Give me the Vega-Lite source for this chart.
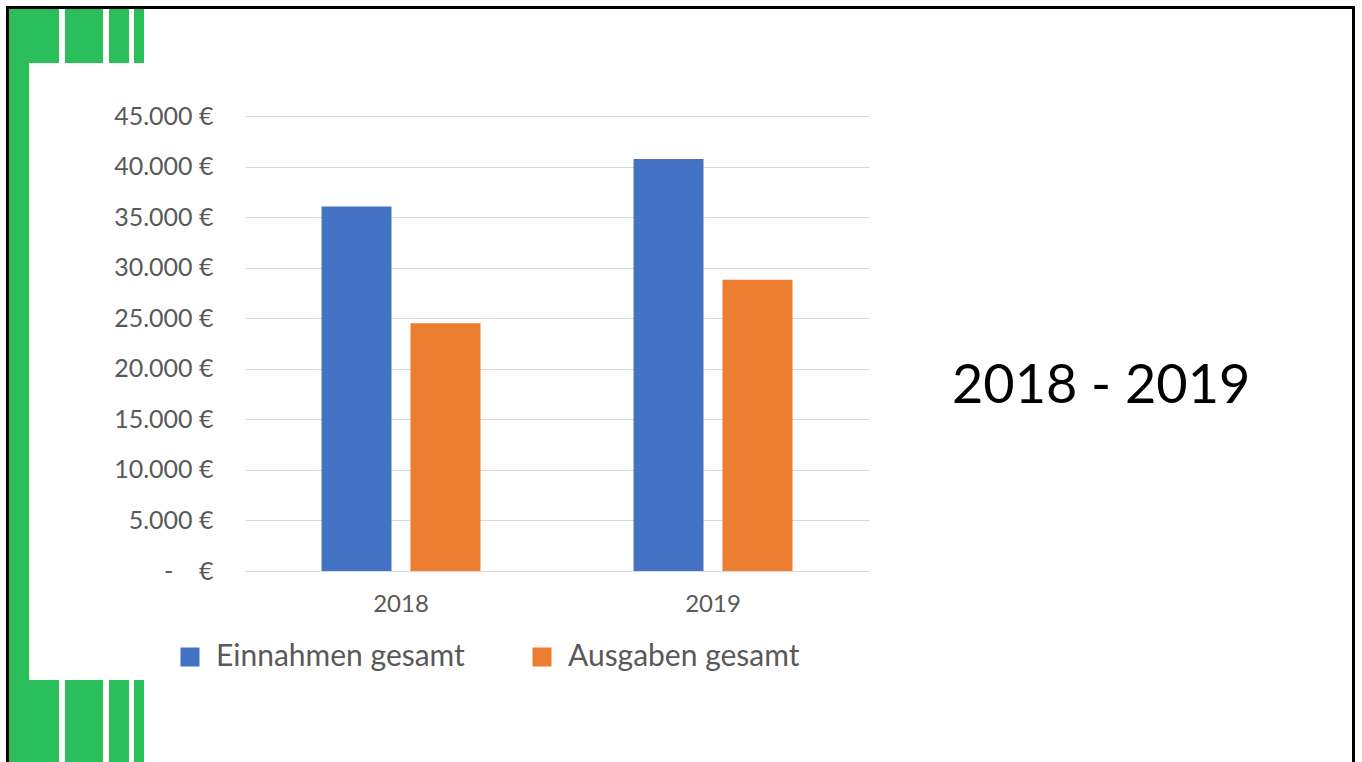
{
  "$schema": "https://vega.github.io/schema/vega-lite/v6.json",
  "width": 624,
  "height": 455,
  "autosize": {"type": "none"},
  "padding": {"left": 245, "top": 116, "right": 493, "bottom": 191},
  "background": "white",
  "config": {
    "view": {"stroke": null},
    "font": "Lato"
  },
  "datasets": {
    "bars": [
      {"Jahr": "2018", "Serie": "Einnahmen gesamt", "Betrag": 36050},
      {"Jahr": "2018", "Serie": "Ausgaben gesamt", "Betrag": 24500},
      {"Jahr": "2019", "Serie": "Einnahmen gesamt", "Betrag": 40750},
      {"Jahr": "2019", "Serie": "Ausgaben gesamt", "Betrag": 28800}
    ],
    "decor": [
      {"x1": 9, "x2": 29, "y1": 9, "y2": 762},
      {"x1": 9, "x2": 59, "y1": 9, "y2": 63},
      {"x1": 65, "x2": 103, "y1": 9, "y2": 63},
      {"x1": 109, "x2": 129, "y1": 9, "y2": 63},
      {"x1": 134, "x2": 144, "y1": 9, "y2": 63},
      {"x1": 9, "x2": 59, "y1": 680, "y2": 762},
      {"x1": 65, "x2": 103, "y1": 680, "y2": 762},
      {"x1": 109, "x2": 129, "y1": 680, "y2": 762},
      {"x1": 134, "x2": 144, "y1": 680, "y2": 762}
    ],
    "frame": [
      {"x1": 7.5, "x2": 1353.5, "y1": 7.5, "y2": 790}
    ],
    "caption": [
      {"label": "2018 - 2019"}
    ]
  },
  "layer": [
    {
      "data": {"name": "decor"},
      "mark": {"type": "rect", "color": "#2ABF5B", "clip": false},
      "encoding": {
        "x": {"field": "x1", "type": "quantitative", "scale": {"domain": [245, 869], "zero": false, "nice": false}, "axis": null},
        "x2": {"field": "x2"},
        "y": {"field": "y1", "type": "quantitative", "scale": {"domain": [571, 116], "zero": false, "nice": false}, "axis": null},
        "y2": {"field": "y2"}
      }
    },
    {
      "data": {"name": "frame"},
      "mark": {"type": "rect", "filled": false, "stroke": "black", "strokeWidth": 3, "clip": false},
      "encoding": {
        "x": {"field": "x1", "type": "quantitative", "scale": {"domain": [245, 869], "zero": false, "nice": false}, "axis": null},
        "x2": {"field": "x2"},
        "y": {"field": "y1", "type": "quantitative", "scale": {"domain": [571, 116], "zero": false, "nice": false}, "axis": null},
        "y2": {"field": "y2"}
      }
    },
    {
      "data": {"name": "caption"},
      "mark": {"type": "text", "align": "left", "baseline": "alphabetic", "font": "Lato", "fontSize": 54, "color": "black", "clip": false},
      "encoding": {
        "x": {"datum": 952, "type": "quantitative", "scale": {"domain": [245, 869], "zero": false, "nice": false}, "axis": null},
        "y": {"datum": 403, "type": "quantitative", "scale": {"domain": [571, 116], "zero": false, "nice": false}, "axis": null},
        "text": {"field": "label"}
      }
    },
    {
      "data": {"name": "bars"},
      "mark": {"type": "bar"},
      "encoding": {
        "x": {
          "field": "Jahr",
          "type": "nominal",
          "scale": {"paddingInner": 0, "paddingOuter": 0},
          "axis": {
            "title": null,
            "labelAngle": 0,
            "labelFont": "Lato",
            "labelFontSize": 24,
            "labelColor": "#595959",
            "labelPadding": 21,
            "ticks": false,
            "domainColor": "#D9D9D9",
            "domainWidth": 1
          }
        },
        "xOffset": {
          "field": "Serie",
          "type": "nominal",
          "scale": {"domain": ["Einnahmen gesamt", "Ausgaben gesamt"], "paddingInner": 0.2135, "paddingOuter": 0.86}
        },
        "y": {
          "field": "Betrag",
          "type": "quantitative",
          "scale": {"domain": [0, 45000], "nice": false},
          "axis": {
            "title": null,
            "values": [0, 5000, 10000, 15000, 20000, 25000, 30000, 35000, 40000, 45000],
            "labelExpr": "datum.value === 0 ? '-\u00a0\u00a0\u00a0\u00a0€' : replace(format(datum.value, ',.0f'), ',', '.') + '\u00a0€'",
            "labelFont": "Lato",
            "labelFontSize": 25,
            "labelColor": "#595959",
            "labelPadding": 32,
            "ticks": false,
            "domain": false,
            "grid": true,
            "gridColor": "#D9D9D9",
            "gridWidth": 1
          }
        },
        "color": {
          "field": "Serie",
          "type": "nominal",
          "scale": {"domain": ["Einnahmen gesamt", "Ausgaben gesamt"], "range": ["#4472C4", "#ED7D31"]},
          "legend": {
            "title": null,
            "orient": "none",
            "direction": "horizontal",
            "legendX": -70,
            "legendY": 526,
            "symbolType": "square",
            "symbolSize": 361,
            "symbolStrokeWidth": 0,
            "symbolOpacity": 1,
            "labelFont": "Lato",
            "labelFontSize": 30,
            "labelColor": "#595959",
            "labelOffset": 11,
            "columnPadding": 62,
            "labelLimit": 400
          }
        }
      }
    }
  ],
  "resolve": {"scale": {"x": "independent", "y": "independent"}}
}
